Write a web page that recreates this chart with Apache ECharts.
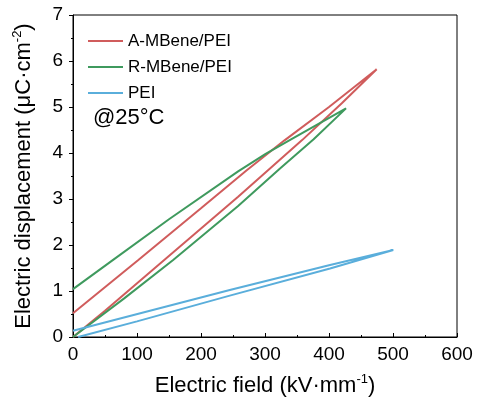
<!DOCTYPE html>
<html>
<head>
<meta charset="utf-8">
<script src="https://cdn.jsdelivr.net/npm/echarts@6/dist/echarts.min.js"></script>
<style>html,body{margin:0;padding:0;background:#fff}#c{width:477px;height:405px}</style>
</head>
<body>
<div id="c"></div>
<script>
// Data: [E (kV/mm), D (uC/cm2)]
const seriesNames = ['A-MBene/PEI', 'R-MBene/PEI', 'PEI'];
const aMbeneCharge = [[0,0],[50,0.57],[143,1.68],[258,3.05],[358,4.28],[420,5.08],[474.5,5.82]];
const aMbeneDischarge = [[474.5,5.82],[400,5.0],[330,4.27],[271,3.62],[200,2.8],[101.6,1.67],[0,0.515]];
const rMbeneCharge = [[0,0],[80,0.84],[156,1.67],[258,2.85],[323,3.66],[376,4.3],[426.6,4.97]];
const rMbeneDischarge = [[426.6,4.97],[340,4.29],[301,3.98],[258,3.6],[150,2.56],[60,1.65],[0,1.04]];
const peiCharge = [[8,0],[100,0.34],[245,0.90],[401.6,1.49],[500.5,1.89]];
const peiDischarge = [[500.5,1.89],[401.6,1.565],[245,1.02],[0,0.137]];
const xTicks = [0,100,200,300,400,500,600];
const yTicks = [0,1,2,3,4,5,6,7];
const colors = ['#d05c5c', '#3f9a5e', '#5aaedb'];

const font = 'Arial, "Liberation Sans", Helvetica, sans-serif';
const chart = echarts.init(document.getElementById('c'), null, {renderer: 'canvas'});
const loops = [
  aMbeneCharge.concat(aMbeneDischarge),
  rMbeneCharge.concat(rMbeneDischarge),
  peiCharge.concat(peiDischarge)
];
chart.setOption({
  animation: false,
  backgroundColor: '#fff',
  grid: {left: 73, right: 20, top: 15, bottom: 68, show: true, borderColor: '#000', borderWidth: 1, backgroundColor: 'transparent'},
  legend: {
    orient: 'vertical', left: 88, top: 31, padding: 0, itemWidth: 35, itemHeight: 2, itemGap: 6,
    icon: 'rect',
    data: seriesNames,
    textStyle: {fontFamily: font, fontSize: 17, color: '#000', lineHeight: 20}
  },
  graphic: [{
    type: 'text', left: 93, top: 107,
    style: {text: '@25°C', font: '22px ' + font, fill: '#000'}
  }],
  xAxis: {
    type: 'value', min: xTicks[0], max: xTicks[xTicks.length-1], interval: 100,
    name: '{a|Electric field (kV·mm}{s|-1}{a|)}', nameLocation: 'middle', nameGap: 36,
    nameTextStyle: {rich: {a: {fontFamily: font, fontSize: 22, color: '#000', lineHeight: 26}, s: {fontFamily: font, fontSize: 13, color: '#000', lineHeight: 13, verticalAlign: 'top'}}},
    axisLine: {lineStyle: {color: '#000', width: 1}},
    axisTick: {inside: true, length: 4, lineStyle: {color: '#000'}},
    minorTick: {show: true, splitNumber: 2, length: 2, lineStyle: {color: '#000'}},
    axisLabel: {fontFamily: font, fontSize: 19, color: '#000', margin: 8},
    splitLine: {show: false}
  },
  yAxis: {
    type: 'value', min: yTicks[0], max: yTicks[yTicks.length-1], interval: 1,
    name: '{a|Electric displacement (μC·cm}{s|-2}{a|)}', nameLocation: 'middle', nameGap: 36,
    nameTextStyle: {rich: {a: {fontFamily: font, fontSize: 22, color: '#000', lineHeight: 26}, s: {fontFamily: font, fontSize: 13, color: '#000', lineHeight: 13, verticalAlign: 'top'}}},
    axisLine: {lineStyle: {color: '#000', width: 1}},
    axisTick: {inside: false, length: 4, lineStyle: {color: '#000'}},
    minorTick: {show: true, splitNumber: 2, length: 2, lineStyle: {color: '#000'}},
    axisLabel: {fontFamily: font, fontSize: 19, color: '#000', margin: 10},
    splitLine: {show: false}
  },
  series: seriesNames.map((n, i) => ({
    name: n, type: 'line', data: loops[i], symbol: 'none', smooth: false,
    lineStyle: {color: colors[i], width: 2}, itemStyle: {color: colors[i]}
  }))
});
</script>
</body>
</html>
